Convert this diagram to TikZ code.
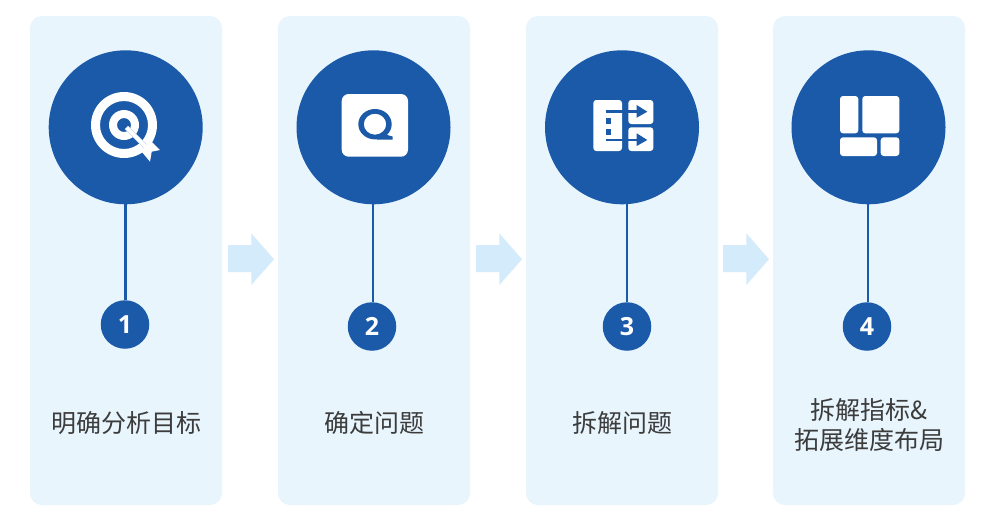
\documentclass[tikz,border=0pt]{standalone}
\usepackage{fontspec}
\setmainfont{Noto Sans CJK SC}
\newfontfamily\numfont{Open Sans}
\definecolor{panelc}{HTML}{E8F5FD}
\definecolor{bluec}{HTML}{1A5AA9}
\definecolor{arrowc}{HTML}{D3EBFA}
\definecolor{textc}{HTML}{3C3C3C}
\definecolor{edgec}{HTML}{BFD6EC}
\tikzset{
  panelbox/.style={fill=panelc,rounded corners=12pt},
  bigdisc/.style={circle,fill=bluec,minimum size=154pt,inner sep=0pt},
  numdisc/.style={circle,fill=bluec,minimum size=48.5pt,inner sep=0pt,text=white,font=\numfont\bfseries\fontsize{25}{25}\selectfont},
  stem/.style={draw=bluec,line width=2.3pt},
  label/.style={text=textc,align=center,font=\fontsize{25}{30}\selectfont},
  flowarrow/.style={fill=arrowc},
  iconw/.style={fill=white,rounded corners=3pt},
  iconb/.style={draw=bluec,line width=2.8pt},
  iconf/.style={fill=bluec}
}
\begin{document}
\begin{tikzpicture}[x=1pt,y=-1pt]
\useasboundingbox (0,0) rectangle (1000,525);
\fill[white] (0,0) rectangle (1000,525);
% panels
\fill[panelbox] (30,16) rectangle (222,505);
\fill[panelbox] (278,16) rectangle (470,505);
\fill[panelbox] (526,16) rectangle (718,505);
\fill[panelbox] (773,16) rectangle (965,505);
% flow arrows
\foreach \dx in {0,248,495}{
  \fill[flowarrow,shift={(\dx,0)}] (228,245) -- (251.3,245) -- (251.3,233.3) -- (274,259.3) -- (251.3,285) -- (251.3,272) -- (228,272) -- cycle;
}
% discs and stems
\node[bigdisc] (d1) at (125.7,127.3) {};
\node[bigdisc] (d2) at (373.5,127.3) {};
\node[bigdisc] (d3) at (622,127.3) {};
\node[bigdisc] (d4) at (868.5,127.3) {};
\node[numdisc] (n1) at (125,324.5) {1};
\node[numdisc] (n2) at (372,326.5) {2};
\node[numdisc] (n3) at (627,326.5) {3};
\node[numdisc] (n4) at (867,326.5) {4};
\draw[stem] (125.5,204) -- (n1.north -| 125.5,0);
\draw[stem] (372.7,204) -- (n2.north -| 372.7,0);
\draw[stem] (627,204) -- (n3.north);
\draw[stem] (867.7,204) -- (n4.north -| 867.7,0);
% labels
\node[label] (t1) at (126,423) {明确分析目标};
\node[label] (t2) at (374,423) {确定问题};
\node[label] (t3) at (622,423) {拆解问题};
\node[label] (t4) at (869,425) {拆解指标\&\\拓展维度布局};
% icon 1: target
\fill[white,even odd rule] (124,125) circle (33) (124,125) circle (24);
\fill[white,even odd rule] (124,125) circle (15) (124,125) circle (7);
\draw[edgec,line width=4.6pt] (126.5,127.5) -- (145,146);
\draw[white,line width=3.8pt] (126.5,127.5) -- (147,148);
\fill[white] (151.7,141.7) -- (160,150) -- (151.7,151.7) -- (150,161.7) -- (141.7,151.7) -- cycle;
% icon 2: Q
\fill[white,rounded corners=7pt] (341.7,94) rectangle (408,156.7);
\fill[bluec,even odd rule] (375,124.2) ellipse (16.7 and 15.2) (375,124.2) ellipse (11.2 and 10.5);
\fill[bluec] (384,131) .. controls (387,135) and (389,136.5) .. (392.5,136.5) -- (392.5,139.5) -- (377,139.5) -- (377,136.5) -- cycle;
% icon 3
\fill[iconw] (593.3,100) rectangle (622,151);
\fill[iconw] (628.3,100) rectangle (653.3,124);
\fill[iconw] (628.3,127.3) rectangle (653.3,151);
\draw[iconb] (605.7,111.7) -- (637,111.7);
\fill[iconf] (636.7,105) -- (647.3,111.7) -- (636.7,117.7) -- cycle;
\draw[iconb] (605.7,140) -- (637,140);
\fill[iconf] (636.7,133.3) -- (647.3,140) -- (636.7,146) -- cycle;
\fill[iconf] (605.7,118.3) rectangle (611.3,124);
\fill[iconf] (605.7,129) rectangle (611.3,134.5);
% icon 4
\fill[iconw] (840,96) rectangle (858.3,133.3);
\fill[iconw] (862.3,96) rectangle (899.3,133.3);
\fill[iconw] (840,137.3) rectangle (877,156);
\fill[iconw] (880.7,137.3) rectangle (899.3,156);
\end{tikzpicture}
\end{document}
